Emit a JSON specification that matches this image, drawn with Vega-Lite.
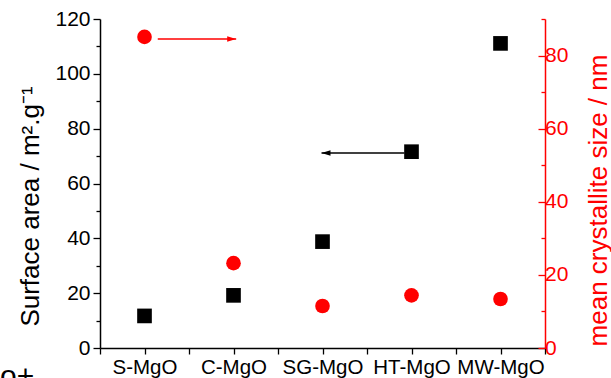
{
  "$schema": "https://vega.github.io/schema/vega-lite/v6.json",
  "width": 445,
  "height": 329,
  "autosize": {"type": "none"},
  "padding": {"left": 100, "top": 19, "right": 66, "bottom": 30},
  "background": "#ffffff",
  "title": {"text": "o+", "orient": "bottom", "anchor": "start", "frame": "group", "dx": -100, "offset": 8, "baseline": "alphabetic", "fontSize": 30, "font": "Liberation Sans", "fontWeight": "normal", "color": "#000000"},
  "config": {
    "view": {"stroke": null},
    "font": "Liberation Sans",
    "axis": {"grid": false, "labelFont": "Liberation Sans", "titleFont": "Liberation Sans", "titleFontWeight": "normal"}
  },
  "datasets": {
    "samples": [
      {"sample": "S-MgO", "surface": 11.7, "size": 85.1},
      {"sample": "C-MgO", "surface": 19.2, "size": 23.2},
      {"sample": "SG-MgO", "surface": 38.8, "size": 11.5},
      {"sample": "HT-MgO", "surface": 71.6, "size": 14.4},
      {"sample": "MW-MgO", "surface": 111.1, "size": 13.4}
    ],
    "arrows": [
      {"series": "size", "from": 0.649, "to": 1.53, "level": 112.7},
      {"series": "surface", "from": 3.421, "to": 2.489, "level": 71.1}
    ]
  },
  "layer": [
    {
      "data": {"name": "samples"},
      "mark": {"type": "point", "shape": "square", "filled": true, "size": 215, "color": "#000000", "opacity": 1},
      "encoding": {
        "x": {
          "field": "sample", "type": "nominal", "sort": null,
          "scale": {"type": "point", "padding": 0.5},
          "axis": {"orient": "bottom", "title": null, "labelAngle": 0, "ticks": false, "domain": false, "labelFontSize": 20.5, "labelColor": "#000000", "labelPadding": 9}
        },
        "y": {
          "field": "surface", "type": "quantitative",
          "scale": {"domain": [0, 120], "nice": false},
          "axis": {
            "orient": "left",
            "values": [0, 10, 20, 30, 40, 50, 60, 70, 80, 90, 100, 110, 120],
            "labelExpr": "datum.value % 20 === 0 ? datum.label : ''",
            "tickSize": {"condition": {"test": "datum.value % 20 === 0", "value": 7}, "value": 4},
            "tickColor": "#000000", "tickWidth": 1.3,
            "domainColor": "#000000", "domainWidth": 1.5,
            "labelFontSize": 21, "labelColor": "#000000", "labelPadding": 3,
            "title": "Surface area / m².g⁻¹", "titleFontSize": 26, "titleColor": "#000000",
            "titleAngle": 270, "titleBaseline": "alphabetic", "titleAlign": "center",
            "titleX": -62, "titleY": 187
          }
        }
      }
    },
    {
      "data": {"name": "samples"},
      "mark": {"type": "point", "shape": "circle", "filled": true, "size": 215, "color": "#ff0000", "opacity": 1},
      "encoding": {
        "x": {"field": "sample", "type": "nominal", "sort": null, "scale": {"type": "point", "padding": 0.5}, "axis": null},
        "y": {
          "field": "size", "type": "quantitative",
          "scale": {"domain": [0, 90], "nice": false},
          "axis": {
            "orient": "right",
            "values": [0, 10, 20, 30, 40, 50, 60, 70, 80, 90],
            "labelExpr": "datum.value % 20 === 0 ? datum.label : ''",
            "tickSize": {"condition": {"test": "datum.value % 20 === 0", "value": -7}, "value": -4},
            "tickColor": "#ff0000", "tickWidth": 1.3,
            "domainColor": "#ff0000", "domainWidth": 1.5,
            "labelFontSize": 21, "labelColor": "#ff0000", "labelPadding": 6.5,
            "title": "mean crystallite size / nm", "titleFontSize": 26, "titleColor": "#ff0000",
            "titleAngle": 270, "titleBaseline": "alphabetic", "titleAlign": "center",
            "titleX": 61, "titleY": 181
          }
        }
      }
    },
    {
      "data": {"name": "arrows"},
      "encoding": {
        "y": {"field": "level", "type": "quantitative", "scale": {"domain": [0, 120], "nice": false}, "axis": null},
        "color": {"field": "series", "type": "nominal", "scale": {"domain": ["size", "surface"], "range": ["#ff0000", "#000000"]}, "legend": null}
      },
      "layer": [
        {
          "mark": {"type": "rule", "strokeWidth": 1.5},
          "encoding": {
            "x": {
              "field": "from", "type": "quantitative",
              "scale": {"domain": [0, 5], "nice": false, "zero": false},
              "axis": {"orient": "bottom", "title": null, "values": [0, 0.5, 1, 1.5, 2, 2.5, 3, 3.5, 4, 4.5, 5], "labels": false, "tickSize": 6, "tickColor": "#000000", "tickWidth": 1.3, "domainColor": "#000000", "domainWidth": 1.5}
            },
            "x2": {"field": "to"}
          }
        },
        {
          "mark": {"type": "point", "filled": true, "size": 81, "opacity": 1, "strokeWidth": 0},
          "encoding": {
            "x": {"field": "to", "type": "quantitative"},
            "shape": {"field": "series", "type": "nominal", "scale": {"domain": ["size", "surface"], "range": ["M0,0L-2,-0.6L-2,0.6Z", "M0,0L2,-0.6L2,0.6Z"]}, "legend": null}
          }
        }
      ]
    }
  ],
  "resolve": {
    "scale": {"x": "independent", "y": "independent"},
    "axis": {"x": "independent", "y": "independent"}
  }
}
